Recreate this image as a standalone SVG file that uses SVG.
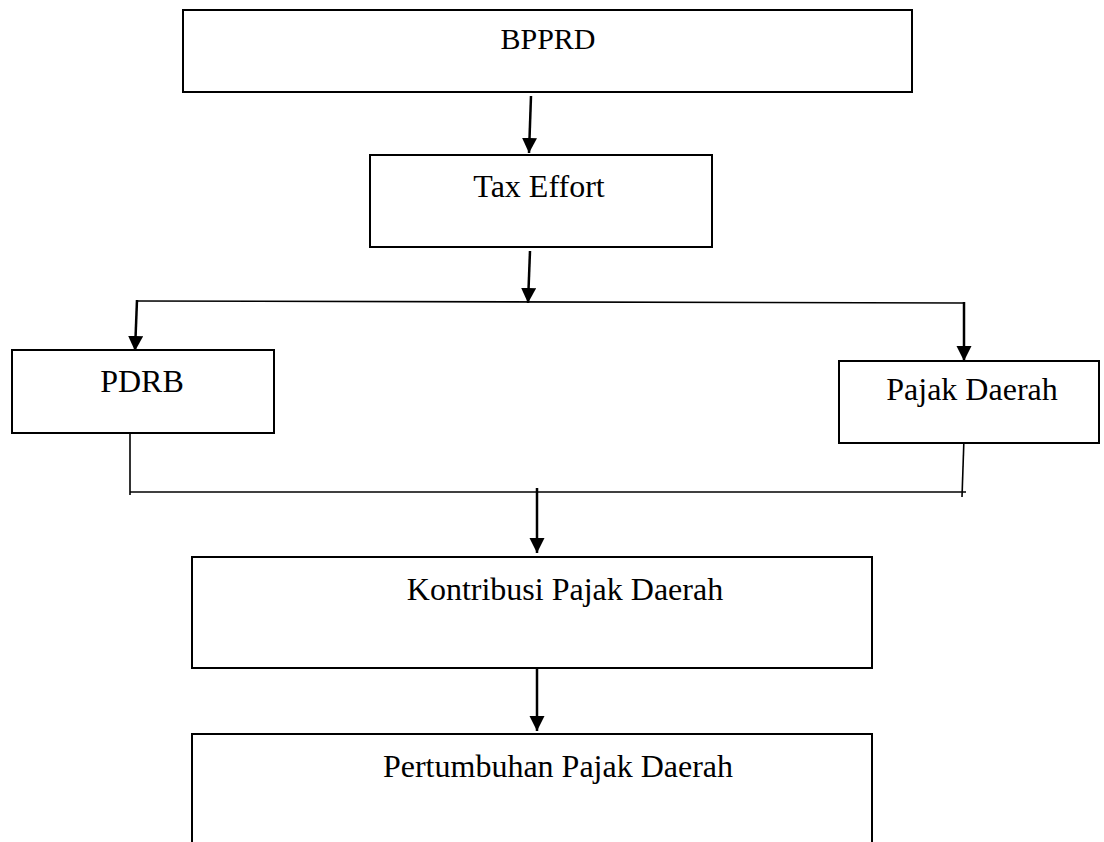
<svg xmlns="http://www.w3.org/2000/svg" width="1104" height="842" viewBox="0 0 1104 842">
<style>
.box{fill:#fff;stroke:#000;stroke-width:2}
.lbl{font-family:"Liberation Serif","Times New Roman",serif;font-size:32px;fill:#000;text-anchor:middle}
.arr{stroke:#000;stroke-width:2.5;fill:none;marker-end:url(#ah)}
.ln{stroke:#000;stroke-width:1.6;fill:none}
</style>
<defs>
<marker id="ah" markerUnits="userSpaceOnUse" markerWidth="16" markerHeight="16" refX="15" refY="7.5" orient="auto" viewBox="0 0 16 16">
<path d="M0,0 L15,7.5 L0,15 z" fill="#000"/>
</marker>
</defs>
<rect width="1104" height="842" fill="#fff"/>
<g id="connectors">
<line class="arr" x1="531" y1="96" x2="529" y2="153"/>
<line class="arr" x1="530" y1="251" x2="528" y2="303"/>
<line class="ln" x1="137" y1="301" x2="964" y2="303"/>
<line class="arr" x1="137" y1="300" x2="135" y2="351"/>
<line class="arr" x1="964" y1="302" x2="964" y2="361"/>
<line class="ln" x1="130" y1="433" x2="130" y2="495"/>
<line class="ln" x1="964" y1="438" x2="962" y2="497"/>
<line class="ln" x1="130" y1="492" x2="966" y2="492"/>
<line class="arr" x1="537" y1="488" x2="537" y2="553"/>
<line class="arr" x1="537" y1="668" x2="537" y2="731"/>
</g>
<g id="bpprd">
<rect class="box" x="183" y="10" width="729" height="82"/>
<text class="lbl" x="548" y="49" style="font-size:30px">BPPRD</text>
</g>
<g id="tax-effort">
<rect class="box" x="370" y="155" width="342" height="92"/>
<text class="lbl" x="539" y="197">Tax Effort</text>
</g>
<g id="pdrb">
<rect class="box" x="12" y="350" width="262" height="83"/>
<text class="lbl" x="142" y="392">PDRB</text>
</g>
<g id="pajak-daerah">
<rect class="box" x="839" y="361" width="260" height="82"/>
<text class="lbl" x="972" y="400">Pajak Daerah</text>
</g>
<g id="kontribusi">
<rect class="box" x="192" y="557" width="680" height="111"/>
<text class="lbl" x="565" y="600">Kontribusi Pajak Daerah</text>
</g>
<g id="pertumbuhan">
<rect class="box" x="192" y="734" width="680" height="130"/>
<text class="lbl" x="558" y="777">Pertumbuhan Pajak Daerah</text>
</g>
</svg>
